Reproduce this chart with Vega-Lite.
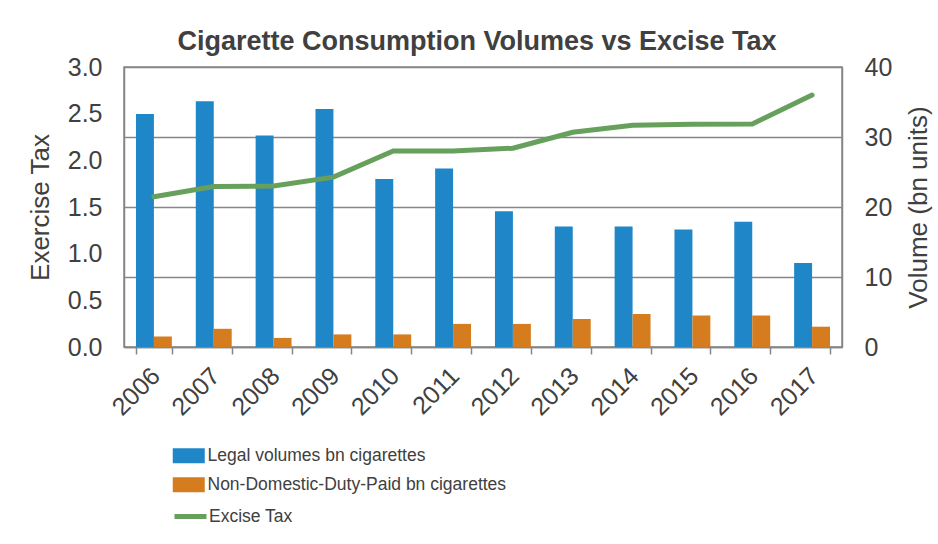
{
  "$schema": "https://vega.github.io/schema/vega-lite/v6.json",
  "width": 718,
  "height": 280,
  "autosize": {"type": "none"},
  "padding": {"left": 124, "top": 67, "right": 96, "bottom": 197},
  "background": "white",
  "title": {
    "text": "Cigarette Consumption Volumes vs Excise Tax",
    "font": "Liberation Sans",
    "fontSize": 27,
    "fontWeight": "bold",
    "color": "#404040",
    "anchor": "middle",
    "offset": -1,
    "dx": -6
  },
  "config": {
    "view": {"stroke": "#868686", "strokeWidth": 1.5},
    "axis": {
      "labelFont": "Liberation Sans",
      "titleFont": "Liberation Sans",
      "labelColor": "#404040",
      "titleColor": "#404040",
      "labelFontSize": 25,
      "titleFontSize": 26,
      "titleFontWeight": "normal",
      "domainColor": "#868686",
      "domainWidth": 1.5,
      "tickColor": "#868686",
      "tickWidth": 1.5,
      "gridColor": "#868686",
      "gridWidth": 1.5
    },
    "legend": {
      "labelFont": "Liberation Sans Narrow, Liberation Sans",
      "labelFontSize": 17.5,
      "labelColor": "#404040",
      "labelLimit": 0
    }
  },
  "datasets": {
    "bars": [
      {"year": "2006", "series": "Legal volumes bn cigarettes", "volume": 33.3},
      {"year": "2007", "series": "Legal volumes bn cigarettes", "volume": 35.1},
      {"year": "2008", "series": "Legal volumes bn cigarettes", "volume": 30.2},
      {"year": "2009", "series": "Legal volumes bn cigarettes", "volume": 34.0},
      {"year": "2010", "series": "Legal volumes bn cigarettes", "volume": 24.0},
      {"year": "2011", "series": "Legal volumes bn cigarettes", "volume": 25.5},
      {"year": "2012", "series": "Legal volumes bn cigarettes", "volume": 19.4},
      {"year": "2013", "series": "Legal volumes bn cigarettes", "volume": 17.2},
      {"year": "2014", "series": "Legal volumes bn cigarettes", "volume": 17.2},
      {"year": "2015", "series": "Legal volumes bn cigarettes", "volume": 16.8},
      {"year": "2016", "series": "Legal volumes bn cigarettes", "volume": 17.9},
      {"year": "2017", "series": "Legal volumes bn cigarettes", "volume": 12.0},
      {"year": "2006", "series": "Non-Domestic-Duty-Paid bn cigarettes", "volume": 1.5},
      {"year": "2007", "series": "Non-Domestic-Duty-Paid bn cigarettes", "volume": 2.6},
      {"year": "2008", "series": "Non-Domestic-Duty-Paid bn cigarettes", "volume": 1.3},
      {"year": "2009", "series": "Non-Domestic-Duty-Paid bn cigarettes", "volume": 1.8},
      {"year": "2010", "series": "Non-Domestic-Duty-Paid bn cigarettes", "volume": 1.8},
      {"year": "2011", "series": "Non-Domestic-Duty-Paid bn cigarettes", "volume": 3.3},
      {"year": "2012", "series": "Non-Domestic-Duty-Paid bn cigarettes", "volume": 3.3},
      {"year": "2013", "series": "Non-Domestic-Duty-Paid bn cigarettes", "volume": 4.0},
      {"year": "2014", "series": "Non-Domestic-Duty-Paid bn cigarettes", "volume": 4.7},
      {"year": "2015", "series": "Non-Domestic-Duty-Paid bn cigarettes", "volume": 4.5},
      {"year": "2016", "series": "Non-Domestic-Duty-Paid bn cigarettes", "volume": 4.5},
      {"year": "2017", "series": "Non-Domestic-Duty-Paid bn cigarettes", "volume": 2.9}
    ],
    "tax": [
      {"year": "2006", "tax": 1.61},
      {"year": "2007", "tax": 1.72},
      {"year": "2008", "tax": 1.725},
      {"year": "2009", "tax": 1.82},
      {"year": "2010", "tax": 2.10},
      {"year": "2011", "tax": 2.10},
      {"year": "2012", "tax": 2.13},
      {"year": "2013", "tax": 2.30},
      {"year": "2014", "tax": 2.375},
      {"year": "2015", "tax": 2.386},
      {"year": "2016", "tax": 2.39},
      {"year": "2017", "tax": 2.70}
    ]
  },
  "encoding": {
    "x": {
      "field": "year",
      "type": "nominal",
      "scale": {"paddingInner": 0.4, "paddingOuter": 0.2},
      "axis": {
        "title": null,
        "labelAngle": -45,
        "tickBand": "extent",
        "tickSize": 7,
        "labelPadding": 9,
        "labelOffset": -7,
        "grid": false
      }
    }
  },
  "layer": [
    {
      "data": {"name": "bars"},
      "mark": {"type": "bar"},
      "encoding": {
        "xOffset": {"field": "series", "type": "nominal", "scale": {"paddingInner": 0, "paddingOuter": 0}},
        "y": {
          "field": "volume",
          "type": "quantitative",
          "scale": {"domain": [0, 40]},
          "axis": {
            "orient": "right",
            "title": "Volume (bn units)",
            "titleAngle": 270,
            "values": [0, 10, 20, 30, 40],
            "ticks": false,
            "labelPadding": 22,
            "titlePadding": 40,
            "grid": true
          }
        },
        "color": {
          "field": "series",
          "type": "nominal",
          "scale": {
            "domain": ["Legal volumes bn cigarettes", "Non-Domestic-Duty-Paid bn cigarettes"],
            "range": ["#1f86c8", "#d57c1f"]
          },
          "legend": {
            "title": null,
            "orient": "none",
            "legendX": 56,
            "legendY": 380,
            "symbolType": "M-2,-0.94H2V0.94H-2Z",
            "symbolSize": 256,
            "symbolStrokeWidth": 0,
            "rowPadding": 10,
            "labelOffset": 10
          }
        }
      }
    },
    {
      "data": {"name": "tax"},
      "mark": {"type": "line", "strokeWidth": 5, "strokeCap": "round"},
      "encoding": {
        "y": {
          "field": "tax",
          "type": "quantitative",
          "scale": {"domain": [0, 3]},
          "axis": {
            "orient": "left",
            "title": "Exercise Tax",
            "format": ".1f",
            "values": [0, 0.5, 1, 1.5, 2, 2.5, 3],
            "ticks": false,
            "labelPadding": 22,
            "titlePadding": 14,
            "grid": false
          }
        },
        "stroke": {
          "datum": "Excise Tax",
          "type": "nominal",
          "scale": {"range": ["#67a05c"]},
          "legend": {
            "title": null,
            "orient": "none",
            "legendX": 56,
            "legendY": 439,
            "symbolType": "M-2,0H2",
            "symbolSize": 256,
            "symbolStrokeWidth": 5,
            "labelOffset": 8
          }
        }
      }
    }
  ],
  "resolve": {"scale": {"y": "independent"}}
}
